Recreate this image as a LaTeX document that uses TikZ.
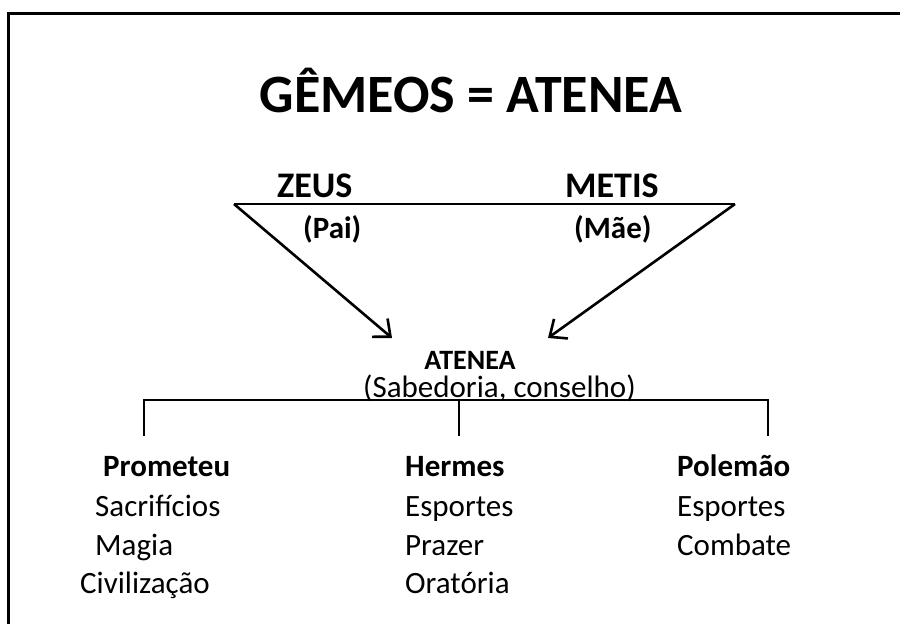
\documentclass[tikz,border=0pt]{standalone}
\usepackage{fontspec}
\setmainfont{Carlito}
\usetikzlibrary{arrows.meta, positioning}

\begin{document}
\begin{tikzpicture}[
    x=1pt, y=-1pt,
    txt/.style={font=\fontsize{31}{36}\selectfont, inner sep=0pt, anchor=base west},
    hd/.style={font=\fontsize{31}{36}\selectfont\bfseries, inner sep=0pt, anchor=base west},
    big/.style={font=\fontsize{36}{40}\selectfont\bfseries, inner sep=0pt, anchor=base west},
    ttl/.style={font=\fontsize{54}{60}\selectfont\bfseries, inner sep=0pt, anchor=base},
    ln/.style={line width=2.6pt},
    arrow/.style={ln, -{Straight Barb[length=14pt, width=24pt, line width=2.6pt]}}
]
    \useasboundingbox (0,0) rectangle (900,624);
    % frame
    \coordinate (fb) at (8,624);
    \coordinate (ft) at (8,13);
    \coordinate (fr) at (900,13);
    \draw[line width=3pt] (fb) -- (ft) -- (fr);

    \node[ttl] (title) at (471,112) {GÊMEOS = ATENEA};

    \node[big] (zeus) at (277,197) {ZEUS};
    \node[big] (metis) at (565,197) {METIS};
    \node[hd] (pai) at (303,238) {(Pai)};
    \node[hd] (mae) at (574,238) {(Mãe)};

    \coordinate (zl) at (234,204);
    \coordinate (mr) at (735,204);
    \coordinate (al) at (392,338);
    \coordinate (ar) at (548,338);
    \draw[ln] (zl) -- (mr);
    \draw[arrow] (zl) -- (al);
    \draw[arrow] (mr) -- (ar);

    \node[hd, anchor=base, font=\fontsize{28}{32}\selectfont\bfseries] (atenea) at (470,369) {ATENEA};
    \node[txt] (sab) at (363,397) {(Sabedoria, conselho)};

    % branches
    \coordinate (bl) at (144,400);
    \coordinate (bm) at (459,400);
    \coordinate (br) at (768,400);
    \coordinate (bl2) at (144,436);
    \coordinate (bm2) at (459,436);
    \coordinate (br2) at (768,436);
    \draw[ln] (bl2) -- (bl) -- (br) -- (br2);
    \draw[ln] (bm) -- (bm2);

    \node[hd] (prom) at (103,476) {Prometeu};
    \node[txt] (sacr) at (95,516) {Sacrifícios};
    \node[txt] (magia) at (95,555) {Magia};
    \node[txt] (civ) at (80,593) {Civilização};

    \node[hd] (herm) at (405,476) {Hermes};
    \node[txt] (esp1) at (405,516) {Esportes};
    \node[txt] (praz) at (405,555) {Prazer};
    \node[txt] (orat) at (405,593) {Oratória};

    \node[hd] (pol) at (677,476) {Polemão};
    \node[txt] (esp2) at (677,516) {Esportes};
    \node[txt] (comb) at (677,555) {Combate};
\end{tikzpicture}
\end{document}
